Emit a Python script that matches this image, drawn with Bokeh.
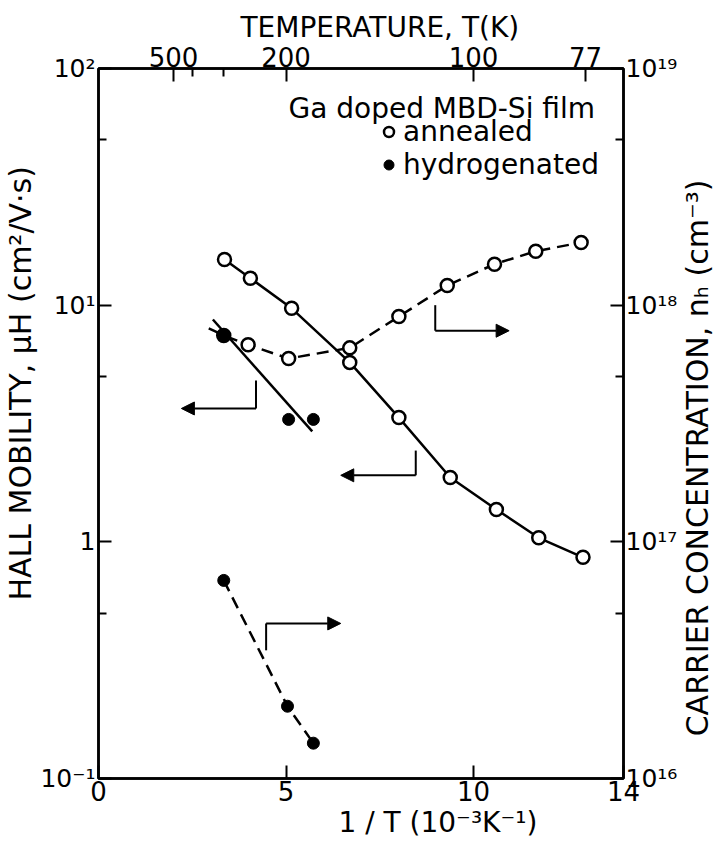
import math
from bokeh.plotting import figure
from bokeh.layouts import row
from bokeh.core.properties import value
from bokeh.models import (Range1d, LogScale, LogAxis, LinearAxis, FixedTicker,
                          Arrow, NormalHead, Label, Legend, LegendItem, Title)
from bokeh.embed import file_html
from bokeh.resources import INLINE

FONT = "DejaVu Sans"

# ---- data ----
# annealed: Hall mobility (cm^2/V.s) vs 1/T (1e-3 K^-1)
ann_mu_x = [3.36, 4.05, 5.15, 6.70, 8.01, 9.38, 10.61, 11.74, 12.92]
ann_mu_y = [15.6, 13.0, 9.7, 5.73, 3.35, 1.87, 1.37, 1.04, 0.86]
# annealed: carrier concentration (cm^-3)
ann_n_x = [3.34, 3.99, 5.07, 6.70, 8.01, 9.30, 10.56, 11.66, 12.87]
ann_n_y = [7.45e17, 6.8e17, 5.95e17, 6.6e17, 8.95e17, 1.21e18, 1.49e18, 1.69e18, 1.84e18]
# hydrogenated: Hall mobility
hyd_mu_x = [3.34, 5.07, 5.73]
hyd_mu_y = [7.45, 3.29, 3.29]
# hydrogenated: carrier concentration
hyd_n_x = [3.34, 5.04, 5.73]
hyd_n_y = [6.87e16, 2.02e16, 1.41e16]
# guide lines drawn in the figure
hyd_mu_fit_x = [3.05, 5.70]
hyd_mu_fit_y = [8.7, 2.93]
ann_n_fit_x = [2.94] + ann_n_x
ann_n_fit_y = [7.98e17] + ann_n_y

# axis ticks
x_ticks = [0, 5, 10, 14]
mu_ticks = [0.1, 1, 10, 100]
mu_tick_labels = ["10⁻¹", "1", "10¹", "10²"]
mu_minor = [0.5, 5, 50]
n_ticks = [1e16, 1e17, 1e18, 1e19]
n_tick_labels = ["10¹⁶", "10¹⁷", "10¹⁸", "10¹⁹"]
n_minor = [5e16, 5e17, 5e18]
temp_major = [500, 200, 100, 77]
temp_minor = [400, 300]

TOP_LABEL = "TEMPERATURE, T(K)"
BOTTOM_LABEL = "1 / T  (10⁻³K⁻¹)"
LEFT_LABEL = "HALL MOBILITY, μH  (cm²/V·s)"
RIGHT_LABEL = "CARRIER CONCENTRATION, nₕ (cm⁻³)"

W_TOTAL, H = 713, 842
W1 = 680                      # main figure; the strip to its right holds the right label
W2 = W_TOTAL - W1
FL, FR, FT, FB = 91, 624, 68, 778   # wanted frame edges (page pixels)
p = figure(width=W1, height=H, x_range=Range1d(0, 14), y_range=Range1d(0.1, 100),
           y_axis_type="log", output_backend="svg", toolbar_location=None,
           min_border_left=FL, min_border_right=W1 - FR, min_border_top=FT,
           min_border_bottom=H - FB, background_fill_color="white")
p.extra_y_ranges = {"conc": Range1d(1e16, 1e19)}
p.extra_y_scales = {"conc": LogScale()}
p.xgrid.visible = False
p.ygrid.visible = False
p.outline_line_color = "black"
p.outline_line_width = 2.5


def style_axis(ax, tick_size="26px"):
    ax.axis_line_width = 2.5
    ax.axis_line_color = "black"
    ax.major_tick_in = 13
    ax.major_tick_out = 0
    ax.minor_tick_in = 8
    ax.minor_tick_out = 0
    ax.major_tick_line_width = 2
    ax.minor_tick_line_width = 2
    ax.major_label_text_font = FONT
    ax.major_label_text_font_size = tick_size
    ax.major_label_text_color = "black"


def side_title(text, offset, size):
    return Title(text=text, align="left", offset=offset, standoff=0, text_font=FONT,
                 text_font_size=size, text_font_style="normal", text_color="black")


bx = p.xaxis[0]
bx.ticker = FixedTicker(ticks=x_ticks)
bx.major_label_standoff = 2
style_axis(bx)
p.add_layout(side_title(BOTTOM_LABEL, 240, "28px"), "below")

ly = p.yaxis[0]
ly.ticker = FixedTicker(ticks=mu_ticks, minor_ticks=mu_minor)
ly.major_label_overrides = dict(zip(mu_ticks, mu_tick_labels))
ly.major_label_standoff = 3
style_axis(ly, tick_size="25px")
p.add_layout(side_title(LEFT_LABEL, 178, "30px"), "left")

tx = LinearAxis(ticker=FixedTicker(ticks=[1000 / t for t in temp_major],
                                   minor_ticks=[1000 / t for t in temp_minor]),
                major_label_overrides={1000 / t: str(t) for t in temp_major})
tx.major_label_standoff = 2
style_axis(tx)
p.add_layout(tx, "above")

p.title.text = TOP_LABEL
p.title.align = "left"
p.title.offset = 142
p.title.standoff = 0
p.title.text_font = FONT
p.title.text_font_size = "28px"
p.title.text_font_style = "normal"
p.title.text_color = "black"

ry = LogAxis(y_range_name="conc", ticker=FixedTicker(ticks=n_ticks, minor_ticks=n_minor),
             major_label_overrides=dict(zip(n_ticks, n_tick_labels)))
ry.major_label_standoff = 2
style_axis(ry, tick_size="25px")
p.add_layout(ry, "right")

LW = 2.5
DASH = "12 7"
# lines
p.line(ann_mu_x, ann_mu_y, line_color="black", line_width=LW)
p.line(ann_n_fit_x, ann_n_fit_y, y_range_name="conc", line_color="black",
       line_width=LW, line_dash=DASH)
p.line(hyd_mu_fit_x, hyd_mu_fit_y, line_color="black", line_width=LW)
p.line(hyd_n_x, hyd_n_y, y_range_name="conc", line_color="black", line_width=LW,
       line_dash=DASH)

# markers
r_open = p.scatter(ann_mu_x, ann_mu_y, marker="circle", size=13, fill_color="white",
                   line_color="black", line_width=2.5)
p.scatter(ann_n_x, ann_n_y, y_range_name="conc", marker="circle", size=13,
          fill_color="white", line_color="black", line_width=2.5)
r_fill = p.scatter(hyd_mu_x, hyd_mu_y, marker="circle", size=12, fill_color="black",
                   line_color="black")
p.scatter(hyd_n_x, hyd_n_y, y_range_name="conc", marker="circle", size=12,
          fill_color="black", line_color="black")

# L-shaped pointer arrows (which axis each curve belongs to)
pointers = [
    # (x_corner, y_start, y_corner, x_end, range_name)
    (4.20, 4.81, 3.66, 2.21, "default"),
    (8.46, 2.43, 1.91, 6.46, "default"),
    (8.98, 1.0e18, 7.8e17, 10.95, "conc"),
    (4.47, 3.48e16, 4.52e16, 6.46, "conc"),
]
for xc, y0, yc, xe, rn in pointers:
    p.line([xc, xc], [y0, yc], y_range_name=rn, line_color="black", line_width=2)
    p.add_layout(Arrow(x_start=xc, y_start=yc, x_end=xe, y_end=yc, y_range_name=rn,
                       line_color="black", line_width=2,
                       end=NormalHead(size=13, fill_color="black", line_color="black",
                                      line_width=1)))

# legend text
p.add_layout(Label(x=13.24, y=67.8, text="Ga doped MBD-Si film", text_font=FONT,
                   text_font_size="28px", text_align="right", text_baseline="middle",
                   text_color="black"))
legend = Legend(items=[LegendItem(label="annealed", renderers=[r_open]),
                       LegendItem(label="hydrogenated", renderers=[r_fill])],
                location=(278, 597), background_fill_alpha=0, border_line_alpha=0,
                label_text_font=FONT, label_text_font_size="28px",
                label_text_color="black", glyph_width=25, glyph_height=27,
                label_standoff=2, padding=0, margin=0, spacing=0, label_height=27)
p.add_layout(legend)

# narrow strip on the right carrying the right-hand axis title (reads bottom to top)
p2 = figure(width=W2, height=H, x_range=Range1d(0, W2), y_range=Range1d(0, H),
            output_backend="svg", toolbar_location=None, min_border=0,
            x_axis_location=None, y_axis_location=None, title=None,
            outline_line_color=None, background_fill_color="white")
p2.xgrid.visible = False
p2.ygrid.visible = False
p2.text(x=[W2 / 2], y=[H - 792], text=[RIGHT_LABEL], angle=math.pi / 2,
        text_font=value(FONT), text_font_size="30px", text_align="left",
        text_baseline="middle", text_color="black")

layout = row(p, p2)
open("out.html", "w").write(file_html(layout, INLINE))
